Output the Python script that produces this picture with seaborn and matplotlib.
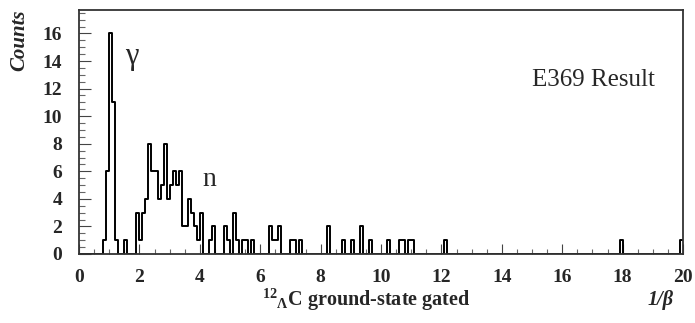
import numpy as np
import pandas as pd
import matplotlib
matplotlib.use("Agg")
import matplotlib.pyplot as plt
from matplotlib.ticker import MultipleLocator
import seaborn as sns

# ── data: 1/beta histogram, 0.1-wide bins, only non-empty bins listed ──
bin_width = 0.1
x_range = (0, 20)
bin_index = [8, 9, 10, 11, 12, 15,
             19, 20, 21, 22, 23, 24, 25, 26, 27, 28, 29, 30, 31, 32, 33, 34, 35,
             36, 37, 38, 39, 40, 43, 44, 48, 49, 51, 52, 54, 55, 57,
             63, 64, 65, 66, 70, 71, 73, 82, 87, 90, 93, 96, 102,
             106, 107, 109, 110, 121, 179, 199]
counts = [1, 6, 16, 11, 1, 1,
          3, 1, 3, 4, 8, 6, 6, 4, 5, 8, 4, 5, 6, 5, 6, 2, 2,
          4, 3, 2, 1, 3, 1, 2, 2, 1, 3, 1, 1, 1, 1,
          2, 1, 1, 2, 1, 1, 1, 2, 1, 1, 2, 1, 1,
          1, 1, 1, 1, 1, 1, 1]
x_ticks = [0, 2, 4, 6, 8, 10, 12, 14, 16, 18, 20]
y_ticks = [0, 2, 4, 6, 8, 10, 12, 14, 16]

df = pd.DataFrame({"inv_beta": (np.array(bin_index) + 0.5) * bin_width,
                   "counts": counts})

sns.set_style("ticks")
plt.rcParams["font.family"] = ["Liberation Serif", "DejaVu Serif"]
plt.rcParams["mathtext.fontset"] = "custom"
plt.rcParams["mathtext.rm"] = "Liberation Serif:bold"
plt.rcParams["mathtext.it"] = "Liberation Serif:bold:italic"
plt.rcParams["mathtext.bf"] = "Liberation Serif:bold"

fig = plt.figure(figsize=(6.95, 3.23), dpi=100)
ax = fig.add_axes([79 / 695, 1 - 254 / 323, 604 / 695, 244 / 323])

sns.histplot(data=df, x="inv_beta", weights="counts",
             binwidth=bin_width, binrange=x_range,
             element="step", fill=False, color="black", linewidth=1.4, ax=ax)

ax.set_xlim(*x_range)
ax.set_ylim(0, 17.7)
ax.set_xticks(x_ticks)
ax.set_yticks(y_ticks)
ax.xaxis.set_minor_locator(MultipleLocator(0.5))
ax.yaxis.set_minor_locator(MultipleLocator(0.5))
ax.set_xticklabels([str(t) for t in x_ticks], fontweight="bold", fontsize=14)
ax.set_yticklabels([str(t) for t in y_ticks], fontweight="bold", fontsize=14)
ax.tick_params(axis="x", which="major", direction="in", length=7.5, width=0.8,
               pad=11, color="#444444")
ax.tick_params(axis="x", which="minor", direction="in", length=3.6, width=0.8,
               color="#666666")
ax.tick_params(axis="y", which="major", direction="in", length=8.5, width=0.8,
               pad=12, color="#444444")
ax.tick_params(axis="y", which="minor", direction="in", length=4.5, width=0.8,
               color="#666666")
ax.set_xlabel("")
ax.set_ylabel("")
for side in ["top", "right", "bottom", "left"]:
    ax.spines[side].set_visible(True)
    ax.spines[side].set_linewidth(1.3)
    ax.spines[side].set_color("#333333")

# annotations
ax.text(1.75, 14.35, "γ", fontsize=22, ha="center", va="center")
ax.text(4.3, 5.4, "n", fontsize=20, ha="center", va="center")
ax.text(17.05, 12.6, "E369 Result", fontsize=18, ha="center", va="center")

# axis titles (ROOT-style placement)
fig.text(0.527, 0.072, r"$^{12}{}_{\Lambda}$C ground-state gated",
         fontsize=14.5, fontweight="bold", ha="center", va="center")
fig.text(0.95, 0.072, "1/β", fontsize=14.5, fontweight="bold",
         fontstyle="italic", ha="center", va="center")
fig.text(0.028, 0.97, "Counts", fontsize=15, fontweight="bold",
         fontstyle="italic", rotation=90, ha="center", va="top")

fig.savefig("out.png", dpi=100)
